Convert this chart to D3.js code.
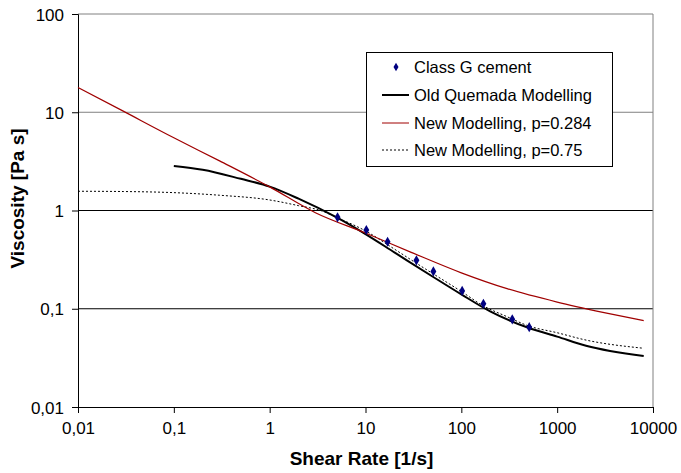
<!DOCTYPE html>
<html>
<head>
<meta charset="utf-8">
<script src="https://cdn.jsdelivr.net/npm/d3@7"></script>
<style>
  body { margin: 0; background: #fff; }
  svg { display: block; font-family: "Liberation Sans", Arial, sans-serif; }
</style>
</head>
<body>
<div id="chart"></div>
<script>
/* measured points, Class G cement */
const shearRate = [5.11, 10.2, 17.0, 34.0, 51.1, 102, 170, 340, 511];
const viscosity = [0.853, 0.633, 0.481, 0.311, 0.240, 0.152, 0.1125, 0.078, 0.065];

/* old Quemada model */
const quemadaRate = [0.1, 0.2, 0.5, 1, 2, 5, 10, 20, 50, 100, 200, 500, 1000, 2000, 8000];
const quemadaVisc = [2.84, 2.6, 2.1, 1.75, 1.32, 0.85, 0.575, 0.375, 0.213, 0.14, 0.094, 0.064, 0.052, 0.042, 0.033];

/* new model p=0.284 */
const newRate1 = [0.01, 0.03, 0.1, 0.3, 1, 3, 10, 30, 100, 300, 1000, 3000, 8000];
const newVisc1 = [17.9, 10.2, 5.5, 3.2, 1.74, 0.95, 0.59, 0.375, 0.232, 0.16, 0.117, 0.092, 0.0756];

/* new model p=0.75 */
const newRate2 = [0.01, 0.03, 0.1, 0.3, 1, 2, 3.5, 5, 10, 20, 35, 50, 100, 170, 300, 500, 1000, 2000, 8000];
const newVisc2 = [1.57, 1.56, 1.52, 1.43, 1.28, 1.12, 0.99, 0.85, 0.62, 0.405, 0.285, 0.229, 0.15, 0.107, 0.083, 0.067, 0.057, 0.048, 0.0396];

const xTicks = [0.01, 0.1, 1, 10, 100, 1000, 10000];
const yTicks = [0.01, 0.1, 1, 10, 100];

const legendLabels = ["Class G cement", "Old Quemada Modelling", "New Modelling, p=0.284", "New Modelling, p=0.75"];

const width = 681, height = 473;
const plot = { left: 78, right: 653, top: 14, bottom: 407 };

const svg = d3.select("#chart").append("svg")
  .attr("width", width)
  .attr("height", height);

const x = d3.scaleLog().domain([0.01, 10000]).range([plot.left, plot.right]);
const y = d3.scaleLog().domain([0.01, 100]).range([plot.bottom, plot.top]);

const fmt = d => String(d).replace(".", ",");

/* gridlines */
svg.append("g").selectAll("line")
  .data([0.1, 1, 10])
  .join("line")
  .attr("x1", plot.left).attr("x2", plot.right)
  .attr("y1", d => y(d)).attr("y2", d => y(d))
  .attr("stroke", d => d === 10 ? "#808080" : "#000")
  .attr("stroke-width", 1);

/* top and right frame */
svg.append("path")
  .attr("d", `M${plot.left},${plot.top}H${plot.right}V${plot.bottom}`)
  .attr("fill", "none")
  .attr("stroke", "#808080");

/* axes */
const xAxis = svg.append("g")
  .attr("transform", `translate(0,${plot.bottom})`)
  .call(d3.axisBottom(x).tickValues(xTicks).tickFormat(fmt).tickSize(6).tickPadding(9));
const yAxis = svg.append("g")
  .attr("transform", `translate(${plot.left},0)`)
  .call(d3.axisLeft(y).tickValues(yTicks).tickFormat(fmt).tickSize(6).tickPadding(8));

[xAxis, yAxis].forEach(a => {
  a.selectAll("path.domain").attr("stroke", "#000");
  a.selectAll(".tick line").attr("stroke", "#000");
  a.selectAll(".tick text")
    .attr("fill", "#000")
    .style("font-size", "17px")
    .style("font-family", "'Liberation Sans', Arial, sans-serif");
});
yAxis.selectAll(".tick text").attr("dy", "0.36em");

/* axis titles */
svg.append("text")
  .attr("x", (plot.left + plot.right) / 2 - 4)
  .attr("y", 465)
  .attr("text-anchor", "middle")
  .style("font-weight", "bold")
  .style("font-size", "19px")
  .text("Shear Rate [1/s]");

svg.append("text")
  .attr("transform", `translate(24,${(plot.top + plot.bottom) / 2 - 12}) rotate(-90)`)
  .attr("text-anchor", "middle")
  .style("font-weight", "bold")
  .style("font-size", "19px")
  .text("Viscosity [Pa s]");

/* curves */
const line = d3.line()
  .x(d => x(d[0]))
  .y(d => y(d[1]))
  .curve(d3.curveMonotoneX);

svg.append("path")
  .datum(d3.zip(newRate2, newVisc2))
  .attr("d", line)
  .attr("fill", "none")
  .attr("stroke", "#000")
  .attr("stroke-width", 1)
  .attr("stroke-dasharray", "2,2");

svg.append("path")
  .datum(d3.zip(quemadaRate, quemadaVisc))
  .attr("d", line)
  .attr("fill", "none")
  .attr("stroke", "#000")
  .attr("stroke-width", 2);

svg.append("path")
  .datum(d3.zip(newRate1, newVisc1))
  .attr("d", line)
  .attr("fill", "none")
  .attr("stroke", "#a00000")
  .attr("stroke-width", 1.2);

/* markers */
const diamond = d3.symbol().type(d3.symbolDiamond).size(30);
svg.append("g").selectAll("path")
  .data(d3.zip(shearRate, viscosity))
  .join("path")
  .attr("transform", d => `translate(${x(d[0])},${y(d[1])})`)
  .attr("d", diamond)
  .attr("fill", "#000080");

/* legend */
const legend = svg.append("g");
legend.append("rect")
  .attr("x", 366.5).attr("y", 52.5)
  .attr("width", 246).attr("height", 114)
  .attr("fill", "#fff")
  .attr("stroke", "#000");

const rowY = [67, 95, 123, 150];
const rows = legend.selectAll("g.row")
  .data(legendLabels)
  .join("g")
  .attr("class", "row")
  .attr("transform", (d, i) => `translate(0,${rowY[i]})`);

rows.append("text")
  .attr("x", 414)
  .attr("dy", "0.36em")
  .style("font-size", "16.5px")
  .text(d => d);

rows.each(function (d, i) {
  const g = d3.select(this);
  if (i === 0) {
    g.append("path").attr("transform", "translate(396,0)")
      .attr("d", d3.symbol().type(d3.symbolDiamond).size(22)).attr("fill", "#000080");
  } else {
    g.append("line")
      .attr("x1", 382).attr("x2", 409)
      .attr("stroke", i === 2 ? "#a00000" : "#000")
      .attr("stroke-width", i === 1 ? 2 : 1)
      .attr("stroke-dasharray", i === 3 ? "2,2" : null);
  }
});
</script>
</body>
</html>
